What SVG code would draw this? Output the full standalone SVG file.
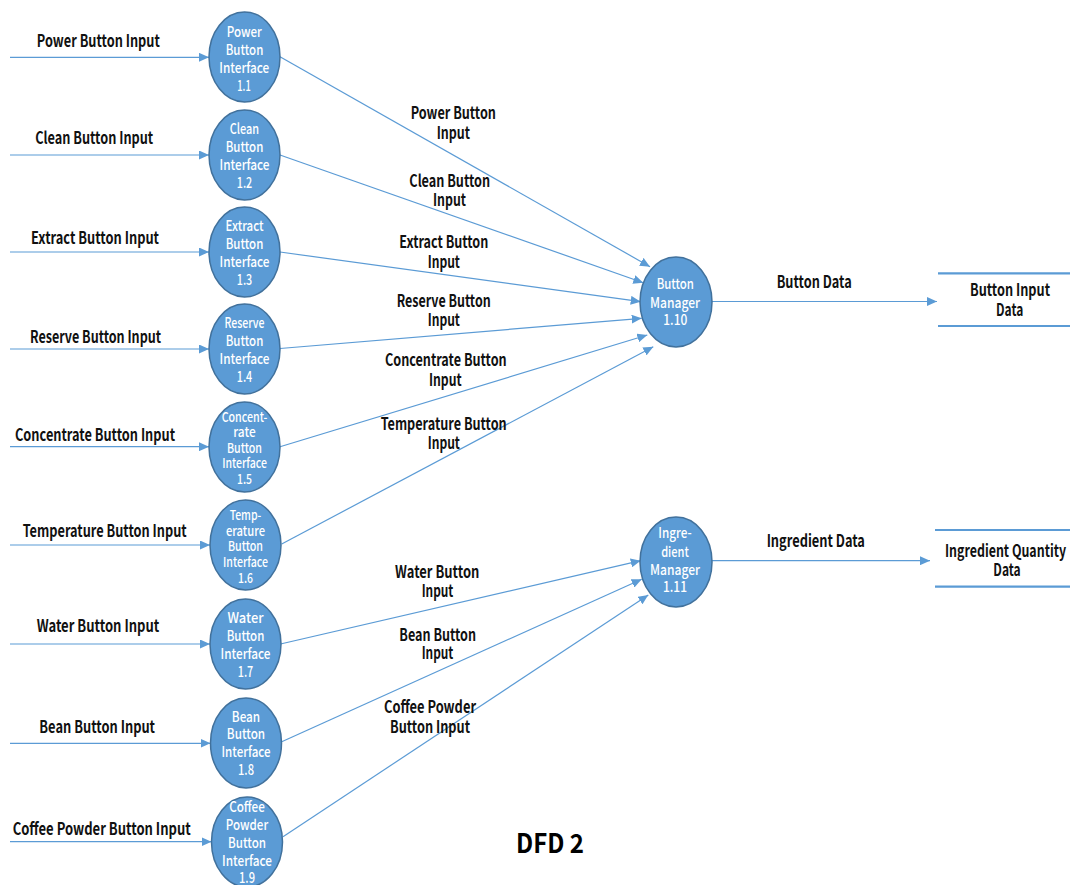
<svg xmlns="http://www.w3.org/2000/svg" width="1070" height="885" viewBox="0 0 1070 885">
  <style>
    .bg { fill: #ffffff; }
    .proc { fill: #5B9BD5; stroke: #41719C; stroke-width: 1.5; }
    .flow { stroke: #5B9BD5; stroke-width: 1.2; fill: none; marker-end: url(#arrow); }
    .store { stroke: #5B9BD5; stroke-width: 2.2; }
    .lbl { font-family: "Noto Sans CJK KR", "Noto Sans", sans-serif; font-size: 16.5px; font-weight: 600; fill: #111111; text-anchor: middle; }
    .pt { font-family: "Noto Sans CJK KR", "Noto Sans", sans-serif; font-size: 14.5px; font-weight: 500; fill: #ffffff; text-anchor: middle; }
    .pt5 { font-family: "Noto Sans CJK KR", "Noto Sans", sans-serif; font-size: 13.5px; font-weight: 500; fill: #ffffff; text-anchor: middle; }
    .title { font-family: "Noto Sans CJK KR", "Noto Sans", sans-serif; font-size: 26.5px; font-weight: bold; fill: #000000; text-anchor: middle; }
  </style>
  <defs>
    <marker id="arrow" markerUnits="userSpaceOnUse" markerWidth="10" markerHeight="9" refX="10" refY="4.5" orient="auto">
      <path d="M0,0 L10,4.5 L0,9 Z" fill="#5B9BD5"/>
    </marker>
  </defs>

  <rect class="bg" x="0" y="0" width="1070" height="885"/>

  <!-- data flows -->
  <g id="connectors">
    <!-- external inputs into interface processes -->
    <line class="flow" x1="10" y1="57.3" x2="209" y2="57.3"/>
    <line class="flow" x1="10" y1="155" x2="209" y2="155"/>
    <line class="flow" x1="10" y1="252" x2="209" y2="252"/>
    <line class="flow" x1="10" y1="349" x2="209" y2="349"/>
    <line class="flow" x1="10" y1="446.7" x2="209" y2="446.7"/>
    <line class="flow" x1="10" y1="545" x2="210" y2="545"/>
    <line class="flow" x1="10" y1="644" x2="210" y2="644"/>
    <line class="flow" x1="10" y1="743.3" x2="210.5" y2="743.3"/>
    <line class="flow" x1="10" y1="841.7" x2="211.5" y2="841.7"/>

    <!-- interfaces into Button Manager -->
    <line class="flow" x1="280" y1="56.7" x2="650" y2="266.7"/>
    <line class="flow" x1="280" y1="155" x2="643.3" y2="282.7"/>
    <line class="flow" x1="280" y1="252" x2="640.7" y2="301.7"/>
    <line class="flow" x1="280" y1="348.5" x2="641.7" y2="318.3"/>
    <line class="flow" x1="280" y1="446.7" x2="647.3" y2="335"/>
    <line class="flow" x1="281.7" y1="544" x2="653.3" y2="346.7"/>

    <!-- interfaces into Ingredient Manager -->
    <line class="flow" x1="280.5" y1="644" x2="640.7" y2="560.7"/>
    <line class="flow" x1="281.7" y1="741.7" x2="641.7" y2="579.3"/>
    <line class="flow" x1="283" y1="836.7" x2="648.3" y2="595"/>

    <!-- managers into data stores -->
    <line class="flow" x1="712" y1="301.5" x2="937" y2="301.5"/>
    <line class="flow" x1="712" y1="560.7" x2="930" y2="560.7"/>
  </g>

  <!-- flow labels -->
  <g id="flow-labels">
    <text class="lbl" x="98.3" y="46.7" textLength="123" lengthAdjust="spacingAndGlyphs">Power Button Input</text>
    <text class="lbl" x="94.2" y="144" textLength="118" lengthAdjust="spacingAndGlyphs">Clean Button Input</text>
    <text class="lbl" x="95" y="244" textLength="128" lengthAdjust="spacingAndGlyphs">Extract Button Input</text>
    <text class="lbl" x="95.5" y="342.5" textLength="131" lengthAdjust="spacingAndGlyphs">Reserve Button Input</text>
    <text class="lbl" x="95" y="440.7" textLength="160" lengthAdjust="spacingAndGlyphs">Concentrate Button Input</text>
    <text class="lbl" x="104.7" y="536.7" textLength="164" lengthAdjust="spacingAndGlyphs">Temperature Button Input</text>
    <text class="lbl" x="98" y="631.7" textLength="122.6" lengthAdjust="spacingAndGlyphs">Water Button Input</text>
    <text class="lbl" x="97.2" y="733.3" textLength="115.7" lengthAdjust="spacingAndGlyphs">Bean Button Input</text>
    <text class="lbl" x="101.7" y="835" textLength="178" lengthAdjust="spacingAndGlyphs">Coffee Powder Button Input</text>

    <text class="lbl" x="453.3" y="119.3" textLength="85.3" lengthAdjust="spacingAndGlyphs">Power Button</text>
    <text class="lbl" x="453.3" y="138.5" textLength="33.3" lengthAdjust="spacingAndGlyphs">Input</text>
    <text class="lbl" x="449.7" y="186.7" textLength="80.7" lengthAdjust="spacingAndGlyphs">Clean Button</text>
    <text class="lbl" x="449.5" y="206" textLength="33" lengthAdjust="spacingAndGlyphs">Input</text>
    <text class="lbl" x="443.8" y="248.3" textLength="89" lengthAdjust="spacingAndGlyphs">Extract Button</text>
    <text class="lbl" x="443.8" y="268" textLength="32.3" lengthAdjust="spacingAndGlyphs">Input</text>
    <text class="lbl" x="443.7" y="306.7" textLength="94" lengthAdjust="spacingAndGlyphs">Reserve Button</text>
    <text class="lbl" x="443.8" y="326" textLength="32.3" lengthAdjust="spacingAndGlyphs">Input</text>
    <text class="lbl" x="445.8" y="366" textLength="121.7" lengthAdjust="spacingAndGlyphs">Concentrate Button</text>
    <text class="lbl" x="445.3" y="386" textLength="32.7" lengthAdjust="spacingAndGlyphs">Input</text>
    <text class="lbl" x="443.7" y="430" textLength="126" lengthAdjust="spacingAndGlyphs">Temperature Button</text>
    <text class="lbl" x="443.8" y="449" textLength="32.3" lengthAdjust="spacingAndGlyphs">Input</text>
    <text class="lbl" x="437.2" y="578.3" textLength="84.3" lengthAdjust="spacingAndGlyphs">Water Button</text>
    <text class="lbl" x="437.5" y="597.3" textLength="31.7" lengthAdjust="spacingAndGlyphs">Input</text>
    <text class="lbl" x="437.7" y="640.7" textLength="76.7" lengthAdjust="spacingAndGlyphs">Bean Button</text>
    <text class="lbl" x="437.5" y="659.3" textLength="31.7" lengthAdjust="spacingAndGlyphs">Input</text>
    <text class="lbl" x="430" y="713.3" textLength="92" lengthAdjust="spacingAndGlyphs">Coffee Powder</text>
    <text class="lbl" x="430" y="732.7" textLength="80" lengthAdjust="spacingAndGlyphs">Button Input</text>

    <text class="lbl" x="814.2" y="288.3" textLength="75" lengthAdjust="spacingAndGlyphs">Button Data</text>
    <text class="lbl" x="815.8" y="547.3" textLength="98.3" lengthAdjust="spacingAndGlyphs">Ingredient Data</text>
  </g>

  <!-- interface processes -->
  <g id="p1-1">
    <ellipse class="proc" cx="244.5" cy="57" rx="35.5" ry="45"/>
    <text class="pt" x="244.2" y="36.5" textLength="35" lengthAdjust="spacingAndGlyphs">Power</text>
    <text class="pt" x="244.5" y="54.5" textLength="37.6" lengthAdjust="spacingAndGlyphs">Button</text>
    <text class="pt" x="244.3" y="72.5" textLength="50" lengthAdjust="spacingAndGlyphs">Interface</text>
    <text class="pt" x="244" y="90.5" textLength="13.4" lengthAdjust="spacingAndGlyphs">1.1</text>
  </g>
  <g id="p1-2">
    <ellipse class="proc" cx="244.5" cy="155" rx="35.5" ry="45"/>
    <text class="pt" x="244.5" y="134" textLength="29.3" lengthAdjust="spacingAndGlyphs">Clean</text>
    <text class="pt" x="244.5" y="152" textLength="37.6" lengthAdjust="spacingAndGlyphs">Button</text>
    <text class="pt" x="244.5" y="170" textLength="50" lengthAdjust="spacingAndGlyphs">Interface</text>
    <text class="pt" x="244.5" y="188" textLength="15.5" lengthAdjust="spacingAndGlyphs">1.2</text>
  </g>
  <g id="p1-3">
    <ellipse class="proc" cx="244.5" cy="252" rx="35.5" ry="45"/>
    <text class="pt" x="244.5" y="231" textLength="38" lengthAdjust="spacingAndGlyphs">Extract</text>
    <text class="pt" x="244.5" y="249" textLength="37.6" lengthAdjust="spacingAndGlyphs">Button</text>
    <text class="pt" x="244.5" y="267" textLength="50" lengthAdjust="spacingAndGlyphs">Interface</text>
    <text class="pt" x="244.5" y="285" textLength="15.5" lengthAdjust="spacingAndGlyphs">1.3</text>
  </g>
  <g id="p1-4">
    <ellipse class="proc" cx="244.5" cy="349" rx="35.5" ry="45"/>
    <text class="pt" x="244.5" y="328" textLength="40" lengthAdjust="spacingAndGlyphs">Reserve</text>
    <text class="pt" x="244.5" y="346" textLength="37.6" lengthAdjust="spacingAndGlyphs">Button</text>
    <text class="pt" x="244.5" y="364" textLength="50" lengthAdjust="spacingAndGlyphs">Interface</text>
    <text class="pt" x="244.5" y="382" textLength="15.5" lengthAdjust="spacingAndGlyphs">1.4</text>
  </g>
  <g id="p1-5">
    <ellipse class="proc" cx="244.5" cy="447" rx="35.5" ry="45"/>
    <text class="pt5" x="244.5" y="421.5" textLength="45.7" lengthAdjust="spacingAndGlyphs">Concent-</text>
    <text class="pt5" x="244.5" y="437" textLength="22.3" lengthAdjust="spacingAndGlyphs">rate</text>
    <text class="pt5" x="244.5" y="452.5" textLength="35" lengthAdjust="spacingAndGlyphs">Button</text>
    <text class="pt5" x="244.5" y="468" textLength="44.7" lengthAdjust="spacingAndGlyphs">Interface</text>
    <text class="pt5" x="244.5" y="484" textLength="15" lengthAdjust="spacingAndGlyphs">1.5</text>
  </g>
  <g id="p1-6">
    <ellipse class="proc" cx="245.5" cy="545" rx="35.5" ry="45"/>
    <text class="pt5" x="245.5" y="520" textLength="31.7" lengthAdjust="spacingAndGlyphs">Temp-</text>
    <text class="pt5" x="245.5" y="536" textLength="39" lengthAdjust="spacingAndGlyphs">erature</text>
    <text class="pt5" x="245.5" y="551" textLength="35" lengthAdjust="spacingAndGlyphs">Button</text>
    <text class="pt5" x="245.5" y="567" textLength="45" lengthAdjust="spacingAndGlyphs">Interface</text>
    <text class="pt5" x="245.5" y="583.3" textLength="15" lengthAdjust="spacingAndGlyphs">1.6</text>
  </g>

  <!-- ingredient interface processes -->
  <g id="p1-7">
    <ellipse class="proc" cx="245.5" cy="644" rx="35.5" ry="45"/>
    <text class="pt" x="245.5" y="623" textLength="36" lengthAdjust="spacingAndGlyphs">Water</text>
    <text class="pt" x="245.5" y="641" textLength="37.6" lengthAdjust="spacingAndGlyphs">Button</text>
    <text class="pt" x="245.5" y="659" textLength="50" lengthAdjust="spacingAndGlyphs">Interface</text>
    <text class="pt" x="245.5" y="677" textLength="15.5" lengthAdjust="spacingAndGlyphs">1.7</text>
  </g>
  <g id="p1-8">
    <ellipse class="proc" cx="246" cy="743" rx="35.5" ry="45"/>
    <text class="pt" x="246" y="721.7" textLength="28.3" lengthAdjust="spacingAndGlyphs">Bean</text>
    <text class="pt" x="246" y="739.3" textLength="38.3" lengthAdjust="spacingAndGlyphs">Button</text>
    <text class="pt" x="246" y="757.3" textLength="49" lengthAdjust="spacingAndGlyphs">Interface</text>
    <text class="pt" x="246" y="775" textLength="16" lengthAdjust="spacingAndGlyphs">1.8</text>
  </g>
  <g id="p1-9">
    <ellipse class="proc" cx="247" cy="842" rx="35.5" ry="45"/>
    <text class="pt" x="247" y="811.7" textLength="35.7" lengthAdjust="spacingAndGlyphs">Coffee</text>
    <text class="pt" x="247" y="830" textLength="42.3" lengthAdjust="spacingAndGlyphs">Powder</text>
    <text class="pt" x="247" y="848.3" textLength="38" lengthAdjust="spacingAndGlyphs">Button</text>
    <text class="pt" x="247" y="865.7" textLength="50" lengthAdjust="spacingAndGlyphs">Interface</text>
    <text class="pt" x="247" y="883.3" textLength="16" lengthAdjust="spacingAndGlyphs">1.9</text>
  </g>

  <!-- manager processes -->
  <g id="p1-10">
    <ellipse class="proc" cx="676" cy="302" rx="36" ry="45"/>
    <text class="pt" x="675.3" y="289.3" textLength="37.3" lengthAdjust="spacingAndGlyphs">Button</text>
    <text class="pt" x="675" y="307.5" textLength="50" lengthAdjust="spacingAndGlyphs">Manager</text>
    <text class="pt" x="675.3" y="325" textLength="24" lengthAdjust="spacingAndGlyphs">1.10</text>
  </g>
  <g id="p1-11">
    <ellipse class="proc" cx="676" cy="562" rx="36" ry="45"/>
    <text class="pt" x="675" y="537.5" textLength="33.3" lengthAdjust="spacingAndGlyphs">Ingre-</text>
    <text class="pt" x="675" y="556.5" textLength="27.7" lengthAdjust="spacingAndGlyphs">dient</text>
    <text class="pt" x="675" y="575" textLength="50" lengthAdjust="spacingAndGlyphs">Manager</text>
    <text class="pt" x="675" y="592" textLength="24" lengthAdjust="spacingAndGlyphs">1.11</text>
  </g>

  <!-- data stores -->
  <g id="store-button-input">
    <line class="store" x1="938" y1="273.3" x2="1070" y2="273.3"/>
    <line class="store" x1="938" y1="326" x2="1070" y2="326"/>
    <text class="lbl" x="1010" y="296" textLength="80" lengthAdjust="spacingAndGlyphs">Button Input</text>
    <text class="lbl" x="1009.7" y="316" textLength="27.3" lengthAdjust="spacingAndGlyphs">Data</text>
  </g>
  <g id="store-ingredient-quantity">
    <line class="store" x1="935" y1="530" x2="1070" y2="530"/>
    <line class="store" x1="935" y1="586.7" x2="1070" y2="586.7"/>
    <text class="lbl" x="1005.5" y="556.7" textLength="121" lengthAdjust="spacingAndGlyphs">Ingredient Quantity</text>
    <text class="lbl" x="1007" y="576" textLength="27.4" lengthAdjust="spacingAndGlyphs">Data</text>
  </g>

  <text class="title" x="550" y="853.3" textLength="68" lengthAdjust="spacingAndGlyphs">DFD 2</text>
</svg>
